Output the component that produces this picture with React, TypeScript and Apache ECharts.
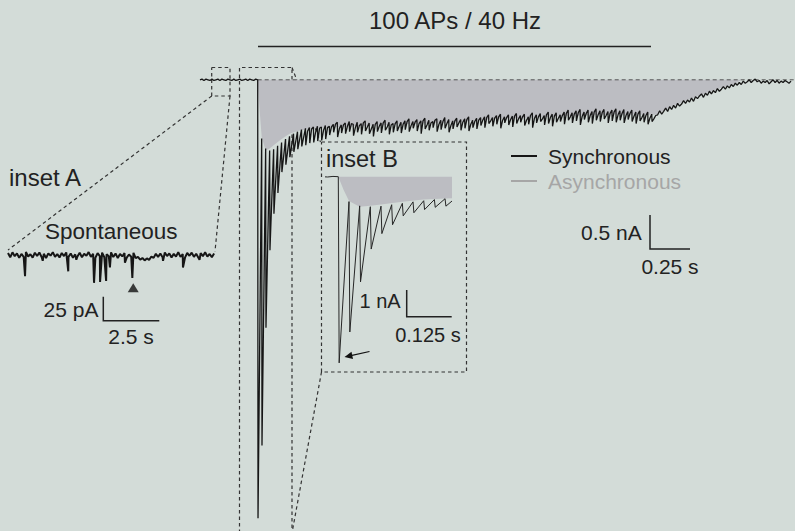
import React, { useEffect, useRef } from "react";
import * as echarts from "echarts";

// ---------------- data ----------------
const STIM_HZ = 40; // 100 APs at 40 Hz
const PEAK_DELAY = 0.002; // s from stimulus to EPSC peak
const MID_DELAY = 0.0135; // s from stimulus to mid-interval sample

// pre-stimulus baseline (nA), 12.5 ms spacing, ending at t = 0
const PRE_START = -0.3625;
const PRE_DT = 0.0125;
const preStim = [0.0, 0.01, -0.01, 0.01, 0.0, -0.01, 0.01, -0.01, 0.0, 0.01, -0.01, 0.01, 0.0, -0.01, 0.01, 0.0, -0.01, 0.01, -0.01, 0.0, 0.01, -0.01, 0.0, 0.01, -0.01, 0.01, 0.0, -0.01, 0.01, 0.0];

// synchronous EPSC peak of each of the 100 APs (nA)
const syncPeaks = [
  -6.51, -5.43, -3.68, -2.53, -1.99, -1.68, -1.37, -1.26, -1.15, -1.07, -1.03, -0.99, -0.97, -0.94, -0.93, -0.91, -0.9, -0.88,
  -0.82, -0.78, -0.85, -0.79, -0.8, -0.77, -0.83, -0.78, -0.81, -0.76, -0.8, -0.84, -0.77, -0.79, -0.75, -0.81, -0.78, -0.76,
  -0.79, -0.74, -0.77, -0.72, -0.76, -0.8, -0.73, -0.75, -0.71, -0.77, -0.74, -0.72, -0.78, -0.73, -0.7, -0.75, -0.72, -0.76, -0.71, -0.73,
  -0.68, -0.71, -0.65, -0.69, -0.66, -0.72, -0.64, -0.67, -0.7, -0.65, -0.63, -0.68, -0.66, -0.71, -0.64, -0.62, -0.67, -0.65, -0.69, -0.63,
  -0.62, -0.66, -0.6, -0.64, -0.61, -0.67, -0.59, -0.63, -0.65, -0.6, -0.62, -0.58, -0.64, -0.61, -0.63,
  -0.6, -0.64, -0.59, -0.62, -0.65, -0.61, -0.63, -0.66, -0.62,
];

// mid-interval current of each AP (nA); not sampled for the first 12 large EPSCs
const syncMid: (number | null)[] = [
  null, null, null, null, null, null, null, null, null, null, null, null,
  -0.76, -0.73, -0.78, -0.72, -0.75, -0.71,
  -0.7, -0.66, -0.72, -0.67, -0.69, -0.65, -0.71, -0.68, -0.64, -0.7, -0.73, -0.66, -0.69, -0.64, -0.7, -0.67, -0.65, -0.69,
  -0.66, -0.62, -0.68, -0.63, -0.65, -0.61, -0.67, -0.64, -0.6, -0.66, -0.62, -0.65, -0.68, -0.61, -0.64, -0.63, -0.59, -0.66, -0.62, -0.6,
  -0.6, -0.56, -0.61, -0.57, -0.55, -0.6, -0.56, -0.59, -0.54, -0.58, -0.55, -0.6, -0.53, -0.57, -0.55, -0.58, -0.52, -0.56, -0.54, -0.57,
  -0.53, -0.5, -0.55, -0.51, -0.49, -0.54, -0.5, -0.53, -0.48, -0.52, -0.49, -0.53, -0.5, -0.48, -0.52,
  -0.5, -0.53, -0.5, -0.54, -0.51, -0.56, -0.53, -0.57, -0.58,
];

// current level reached just before the next AP (nA)
const syncTroughs = [
  -0.87, -1.02, -1.05, -1.03, -0.98, -0.93, -0.88, -0.84, -0.8, -0.77, -0.74, -0.72, -0.71, -0.7, -0.69, -0.7, -0.68, -0.69,
  -0.66, -0.63, -0.67, -0.64, -0.62, -0.66, -0.63, -0.65, -0.61, -0.64, -0.66, -0.62, -0.64, -0.6, -0.63, -0.65, -0.61, -0.63,
  -0.61, -0.58, -0.62, -0.59, -0.61, -0.57, -0.6, -0.62, -0.58, -0.6, -0.56, -0.59, -0.61, -0.57, -0.59, -0.58, -0.55, -0.6, -0.57, -0.56,
  -0.55, -0.52, -0.56, -0.53, -0.51, -0.55, -0.52, -0.54, -0.5, -0.53, -0.51, -0.55, -0.49, -0.52, -0.5, -0.53, -0.48, -0.51, -0.49, -0.52,
  -0.48, -0.45, -0.49, -0.46, -0.44, -0.48, -0.45, -0.47, -0.43, -0.46, -0.44, -0.47, -0.45, -0.43, -0.46,
  -0.44, -0.47, -0.45, -0.48, -0.46, -0.5, -0.48, -0.51, -0.53,
];

// post-stimulus recovery (nA), 12.5 ms spacing from t = 2.5125 s
const POST_DT = 0.0125;
const postStim = [
  -0.52, -0.46, -0.51, -0.47, -0.42, -0.47, -0.4, -0.44, -0.38, -0.42, -0.35, -0.39, -0.36, -0.31, -0.35, -0.3, -0.33, -0.27, -0.32, -0.25,
  -0.28, -0.24, -0.21, -0.26, -0.2, -0.23, -0.17, -0.21, -0.16, -0.19, -0.13, -0.17, -0.14, -0.1, -0.14, -0.09, -0.12, -0.07, -0.1, -0.05,
  -0.08, -0.04, -0.07, -0.02, -0.05, -0.03, 0.0, -0.04, -0.01, 0.01, -0.03, -0.01, -0.05, -0.02, -0.04, -0.01, -0.06, -0.03, 0.0, -0.04,
  -0.01, -0.05, -0.02, -0.04, -0.01, -0.03, -0.05, -0.02,
];

// asynchronous (tonic) component envelope
const asyncT = [0, 0.012, 0.025, 0.05, 0.075, 0.1, 0.15, 0.2, 0.25, 0.35, 0.5, 0.75, 1.0, 1.25, 1.5, 1.75, 2.0, 2.25, 2.5, 2.6, 2.7, 2.8, 2.9, 3.0, 3.04];
const asyncI = [0, -0.45, -0.85, -1.05, -1.02, -0.97, -0.88, -0.8, -0.76, -0.72, -0.7, -0.68, -0.65, -0.63, -0.58, -0.56, -0.53, -0.51, -0.52, -0.4, -0.3, -0.21, -0.13, -0.06, 0];

// spontaneous trace (pA), 0.1 s spacing
const SPONT_DT = 0.1;
const spontNoise = [
  2.0, -2.4, 2.8, -1.2, 1.6, -3.0, 1.1, -1.9, 3.1, -1.5,
  0.8, -2.7, 2.3, -1.0, 2.6, -2.1, 1.2, -3.1, 1.7, -0.7,
  2.9, -1.8, 0.9, -2.6, 2.1, -1.1, 2.7, -2.0, 1.5, -2.9,
  0.7, -1.6, 2.4, -2.3, 1.2, -0.8, 3.0, -1.9, 1.3, -2.8,
  1.9, -1.2, 2.5, -2.4, 0.8, -1.4, 2.8, -2.1, 1.6, -3.2,
  1.1, -1.5, 2.0, -2.7, 0.5, -1.8, 2.2, -3.3, -1.9, -4.9,
  -3.2, -5.6, -3.6, -5.1, -1.6, -3.0, 1.2, -2.0, 1.5, -2.3,
  2.6, -1.1, 1.7, -2.5, 1.2, -1.6, 2.9, -2.0, 0.9, -2.8,
  2.1, -0.8, 2.4, -1.9, 1.3, -2.9, 2.0, -1.2, 2.8, -1.7,
  1.1, -2.3, 1.6,
];
// spontaneous events [time s, current pA]
const spontEvents: [number, number][] = [
  [0.76, -22], [1.55, -6], [2.69, -17], [3.05, -5], [3.84, -29], [4.11, -28], [4.38, -27], [4.55, -13],
  [5.22, -8], [5.55, -24], [6.92, -6], [7.81, -13], [8.55, -5],
];

// arrowhead markers
const spontMarker: [number, number] = [5.59, -34];
const asyncMarker: [number, number] = [0.086, -0.47];

// ---------------- build ----------------
function buildSync(): [number, number][] {
  const d: [number, number][] = [];
  preStim.forEach((v, i) => d.push([PRE_START + i * PRE_DT, v]));
  for (let i = 0; i < syncPeaks.length; i++) {
    const t = i / STIM_HZ;
    d.push([t + PEAK_DELAY, syncPeaks[i]]);
    const m = syncMid[i];
    if (m !== null && m !== undefined) d.push([t + MID_DELAY, m]);
    d.push([t + 1 / STIM_HZ, syncTroughs[i]]);
  }
  const tEnd = syncPeaks.length / STIM_HZ;
  postStim.forEach((v, k) => d.push([tEnd + (k + 1) * POST_DT, v]));
  return d;
}
function buildAsync(): [number, number][] {
  return asyncT.map((t, i) => [t, asyncI[i]]);
}
function buildSpont(): [number, number][] {
  const d: [number, number][] = spontNoise.map((v, i) => [i * SPONT_DT, v]);
  spontEvents.forEach((e) => d.push([e[0], e[1]]));
  d.sort((a, b) => a[0] - b[0]);
  return d;
}

const BG = "#d3dcd8";
const INK = "#222222";
const TRACE = "#161616";
const FILL = "#bcbdc2";
const GREYTXT = "#a6a6a6";
const FONT = "Liberation Sans, Arial, Helvetica, sans-serif";

const dashed = { stroke: "#333", lineWidth: 1.2, lineDash: [3.5, 3], fill: null as any };
const solid = { stroke: INK, lineWidth: 1.5, fill: null as any };

function txt(text: string, x: number, y: number, size: number, align = "left", color = INK) {
  return {
    type: "text",
    silent: true,
    style: { text, x, y, font: `${size}px ${FONT}`, fill: color, textAlign: align, textVerticalAlign: "middle" },
  };
}

export default function App() {
  const ref = useRef<HTMLDivElement>(null);
  useEffect(() => {
    if (!ref.current) return;
    const chart = echarts.init(ref.current, null, { renderer: "svg" });
    const sync = buildSync();
    const asyn = buildAsync();
    const spont = buildSpont();

    const option: any = {
      animation: false,
      backgroundColor: BG,
      legend: {
        orient: "vertical",
        left: 506,
        top: 139.5,
        icon: "rect",
        itemWidth: 26,
        itemHeight: 2,
        itemGap: 2,
        selectedMode: false,
        textStyle: { fontFamily: FONT, fontSize: 21, lineHeight: 23, padding: [0, 0, 0, 6] },
        data: [
          { name: "Synchronous", itemStyle: { color: TRACE }, textStyle: { color: INK } },
          { name: "Asynchronous", itemStyle: { color: GREYTXT }, textStyle: { color: GREYTXT } },
        ],
      },
      grid: [
        // main trace: 160 px/s, 68 px/nA, t=0 at x=258, 0 nA at y=80
        { left: 198, width: 600, top: 80 - 0.3 * 68, height: 7.0 * 68 },
        // inset A: 22.4 px/s, 0.96 px/pA
        { left: 8, width: 207, top: 255 - 8 * 0.96, height: 78 * 0.96 },
        // inset B: 427 px/s, 28.6 px/nA
        { left: 325.5, width: 0.295 * 427, top: 176.7 - 0.1 * 28.6, height: 6.8 * 28.6 },
      ],
      xAxis: [
        { type: "value", gridIndex: 0, min: -0.375, max: 3.375, show: false },
        { type: "value", gridIndex: 1, min: 0, max: 9.24, show: false },
        { type: "value", gridIndex: 2, min: -0.03, max: 0.265, show: false },
      ],
      yAxis: [
        { type: "value", gridIndex: 0, min: -6.7, max: 0.3, show: false },
        { type: "value", gridIndex: 1, min: -70, max: 8, show: false },
        { type: "value", gridIndex: 2, min: -6.7, max: 0.1, show: false },
      ],
      series: [
        {
          name: "Asynchronous", type: "line", xAxisIndex: 0, yAxisIndex: 0, data: asyn,
          showSymbol: false, symbol: "none", silent: true, color: GREYTXT,
          lineStyle: { width: 0 }, areaStyle: { color: FILL, opacity: 1 },
        },
        {
          name: "baseline", type: "line", xAxisIndex: 0, yAxisIndex: 0, data: [[0, 0], [3.4, 0]],
          showSymbol: false, symbol: "none", silent: true,
          lineStyle: { color: "#555", width: 1, type: [4, 3] },
        },
        {
          name: "Synchronous", type: "line", xAxisIndex: 0, yAxisIndex: 0, data: sync,
          showSymbol: false, symbol: "none", silent: true, color: TRACE,
          lineStyle: { color: TRACE, width: 1.3 },
        },
        {
          name: "Spontaneous", type: "line", xAxisIndex: 1, yAxisIndex: 1, data: spont,
          showSymbol: false, symbol: "none", silent: true,
          lineStyle: { color: TRACE, width: 2 },
        },
        {
          name: "Asynchronous", type: "line", xAxisIndex: 2, yAxisIndex: 2, data: asyn,
          showSymbol: false, symbol: "none", silent: true, color: GREYTXT,
          lineStyle: { width: 0 }, areaStyle: { color: FILL, opacity: 1 },
        },
        {
          name: "Synchronous", type: "line", xAxisIndex: 2, yAxisIndex: 2, data: sync,
          showSymbol: false, symbol: "none", silent: true, color: TRACE,
          lineStyle: { color: "#262626", width: 1 },
        },
        {
          name: "marker A", type: "scatter", xAxisIndex: 1, yAxisIndex: 1, data: [spontMarker],
          symbol: "triangle", symbolSize: [11, 9], silent: true, itemStyle: { color: "#111" },
        },
        {
          name: "marker B", type: "scatter", xAxisIndex: 2, yAxisIndex: 2, data: [asyncMarker],
          symbol: "triangle", symbolSize: [11, 9], silent: true, itemStyle: { color: "#111" },
        },
      ],
      graphic: [
        txt("100 APs / 40 Hz", 455, 20, 24, "center"),
        { type: "line", silent: true, shape: { x1: 258, y1: 46.5, x2: 651, y2: 46.5 }, style: { ...solid } },
        // inset A zoom box and connectors
        { type: "polyline", silent: true, shape: { points: [[211.7, 67.5], [230, 67.5], [230, 96], [211.7, 96], [211.7, 67.5]] }, style: { ...dashed } },
        { type: "line", silent: true, shape: { x1: 211.7, y1: 96, x2: 8, y2: 250 }, style: { ...dashed } },
        { type: "line", silent: true, shape: { x1: 230, y1: 96, x2: 215, y2: 251.5 }, style: { ...dashed } },
        // inset B zoom box and connectors
        { type: "polyline", silent: true, shape: { points: [[239.5, 533], [239.5, 67.5], [292, 67.5], [292, 533]] }, style: { ...dashed } },
        { type: "line", silent: true, shape: { x1: 292, y1: 67.5, x2: 320.5, y2: 142 }, style: { ...dashed } },
        { type: "line", silent: true, shape: { x1: 321.5, y1: 372, x2: 292, y2: 533 }, style: { ...dashed } },
        { type: "polyline", silent: true, shape: { points: [[321.5, 142], [466.5, 142], [466.5, 372], [321.5, 372], [321.5, 142]] }, style: { ...dashed } },
        // labels
        txt("inset A", 9, 177, 24),
        txt("Spontaneous", 45, 231.5, 22.5),
        txt("inset B", 326, 158.5, 23.5),
        // scale bars
        { type: "polyline", silent: true, shape: { points: [[103.3, 296.7], [103.3, 320.7], [159.3, 320.7]] }, style: { ...solid } },
        txt("25 pA", 98.5, 309, 21, "right"),
        txt("2.5 s", 131, 336.5, 21, "center"),
        { type: "polyline", silent: true, shape: { points: [[406.7, 290], [406.7, 316.7], [451.7, 316.7]] }, style: { ...solid } },
        txt("1 nA", 400.7, 301, 20, "right"),
        txt("0.125 s", 428, 334.5, 20, "center"),
        { type: "polyline", silent: true, shape: { points: [[650, 215], [650, 249], [690, 249]] }, style: { ...solid } },
        txt("0.5 nA", 641.7, 232.7, 21, "right"),
        txt("0.25 s", 670, 266.8, 21, "center"),
        // arrow to first EPSC in inset B
        { type: "line", silent: true, shape: { x1: 369.5, y1: 351.5, x2: 352, y2: 355.3 }, style: { stroke: "#111", lineWidth: 1.2 } },
        { type: "polygon", silent: true, shape: { points: [[344.5, 357], [353, 358.9], [351.5, 351.8]] }, style: { fill: "#111" } },
      ],
    };
    chart.setOption(option);
    return () => chart.dispose();
  }, []);
  return <div ref={ref} style={{ position: "fixed", left: 0, top: 0, width: 795, height: 531, background: BG }} />;
}
